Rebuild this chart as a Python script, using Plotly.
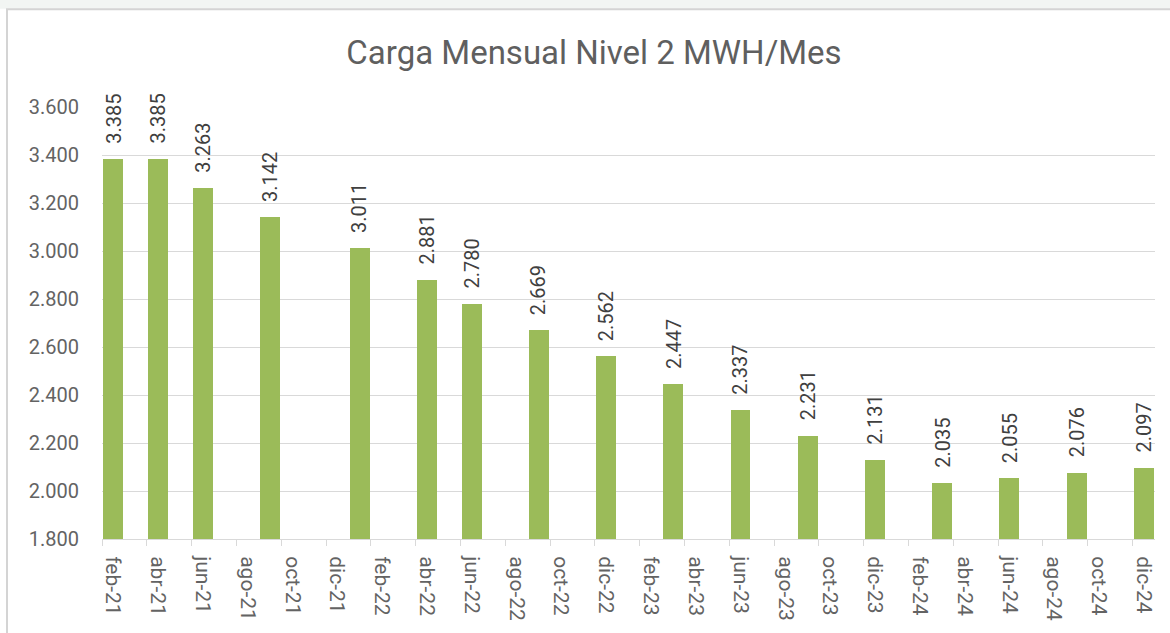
import plotly.graph_objects as go

# ---- data ----
tick_labels = ["feb-21", "abr-21", "jun-21", "ago-21", "oct-21", "dic-21",
               "feb-22", "abr-22", "jun-22", "ago-22", "oct-22", "dic-22",
               "feb-23", "abr-23", "jun-23", "ago-23", "oct-23", "dic-23",
               "feb-24", "abr-24", "jun-24", "ago-24", "oct-24", "dic-24"]
bar_months = ["feb-21", "abr-21", "jun-21", "sep-21", "ene-22", "abr-22",
              "jun-22", "sep-22", "dic-22", "mar-23", "jun-23", "sep-23",
              "dic-23", "mar-24", "jun-24", "sep-24", "dic-24"]
values = [3385, 3385, 3263, 3142, 3011, 2881, 2780, 2669, 2562, 2447,
          2337, 2231, 2131, 2035, 2055, 2076, 2097]
y_ticks = [1800, 2000, 2200, 2400, 2600, 2800, 3000, 3200, 3400, 3600]

MESES = ["ene", "feb", "mar", "abr", "may", "jun",
         "jul", "ago", "sep", "oct", "nov", "dic"]


def month_index(label):
    m, y = label.split("-")
    return (int(y) - 21) * 12 + MESES.index(m) - 1  # feb-21 -> 0


bar_x = [month_index(m) for m in bar_months]
tick_x = [month_index(m) for m in tick_labels]


def fmt(v):
    return f"{v:,}".replace(",", ".")


FONT = "Roboto"
GRID = "#d9d9d9"

fig = go.Figure()
fig.add_trace(go.Bar(
    x=bar_x, y=values, width=0.89,
    marker=dict(color="#9bbb59", line=dict(width=0)),
    hovertext=bar_months, showlegend=False,
))

for x, v in zip(bar_x, values):
    fig.add_annotation(
        x=x, y=v, text=fmt(v), textangle=-90, showarrow=False,
        xanchor="center", yanchor="bottom", yshift=13,
        font=dict(family=FONT, size=20, color="#404040"),
    )

# plot area in pixels: left 102, right 1155, top 107, bottom 542
L, R, T, B = 102, 1155, 107, 542
W, H = 1170, 633
pw, ph = R - L, B - T


def px_x(p):
    return (p - L) / pw


def px_y(p):
    return (B - p) / ph


shapes = [
    dict(type="rect", xref="paper", yref="paper",
         x0=px_x(-5), x1=px_x(W + 5), y0=px_y(8), y1=px_y(-5),
         fillcolor="#f2f5f3", line=dict(width=0), layer="below"),
    dict(type="rect", xref="paper", yref="paper",
         x0=px_x(7), x1=px_x(W + 20), y0=px_y(H + 20), y1=px_y(8.5),
         fillcolor="rgba(0,0,0,0)", line=dict(color="#d4d4d4", width=2),
         layer="below"),
]

fig.update_layout(
    width=W, height=H,
    margin=dict(l=L, r=W - R, t=T, b=H - B),
    paper_bgcolor="white", plot_bgcolor="white",
    separators=",.",
    shapes=shapes,
    title=dict(
        text="Carga Mensual Nivel 2 MWH/Mes",
        xref="paper", x=px_x(594), xanchor="center",
        yref="container", y=1 - 52 / H, yanchor="middle",
        font=dict(family=FONT, size=33, color="#5f5f5f"),
    ),
    bargap=0,
)

fig.update_xaxes(
    range=[-0.5, 46.5],
    tickmode="array", tickvals=tick_x, ticktext=tick_labels,
    tickangle=90, ticks="", ticklabelstandoff=12,
    tickfont=dict(family=FONT, size=21, color="#636363"),
    showgrid=False, zeroline=False,
    showline=True, linecolor=GRID, linewidth=1,
    minor=dict(tick0=-0.5, dtick=2, ticks="outside", ticklen=6,
               tickcolor=GRID, tickwidth=1, showgrid=False),
)
fig.update_yaxes(
    range=[1800, 3600], tickmode="array", tickvals=y_ticks,
    tickformat=",.0f", ticks="", ticklabelstandoff=22,
    tickfont=dict(family=FONT, size=20, color="#636363"),
    showgrid=True, gridcolor=GRID, gridwidth=1,
    zeroline=False, showline=False,
)

fig.write_html("out.html", config={"displayModeBar": False},
               post_script="document.body.style.margin='0';")
